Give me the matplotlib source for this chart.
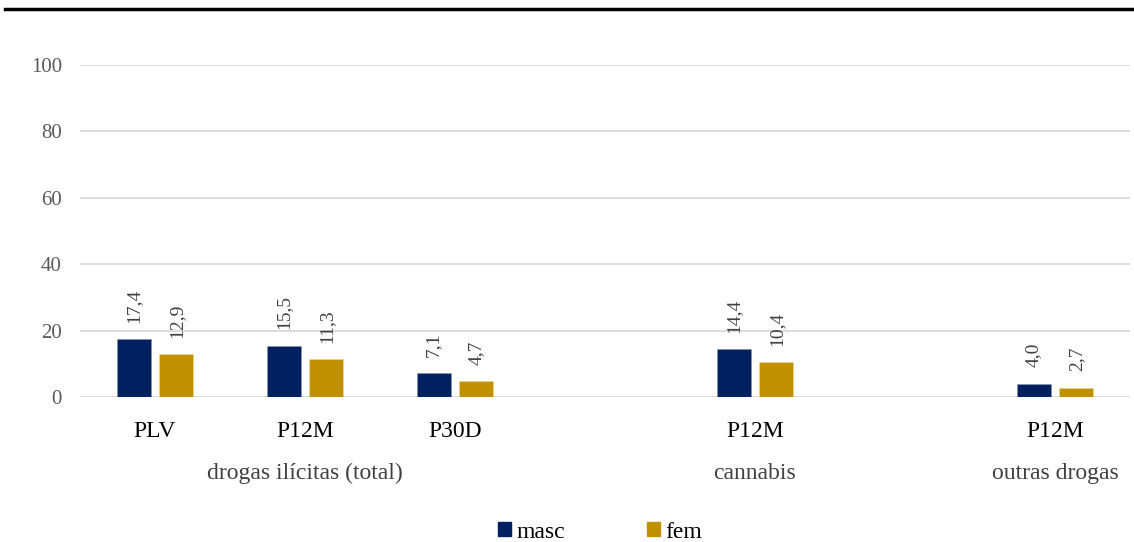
import matplotlib
matplotlib.use("Agg")
import matplotlib.pyplot as plt
from matplotlib.patches import Patch
import numpy as np

plt.rcParams['font.family'] = ['Liberation Serif', 'DejaVu Serif']

# slots on the category axis (empty slots 3 and 5 separate the groups)
slots = [0, 1, 2, 4, 6]
periods = ["PLV", "P12M", "P30D", "P12M", "P12M"]
groups = ["drogas ilícitas (total)", "cannabis", "outras drogas"]
group_slots = [1, 4, 6]
masc = [17.4, 15.5, 7.1, 14.4, 4.0]
fem = [12.9, 11.3, 4.7, 10.4, 2.7]

navy = "#002060"
gold = "#BF9000"
grey = "#404040"

fig = plt.figure(figsize=(11.34, 5.42), dpi=100)
ax = fig.add_axes([80 / 1134, 1 - 397 / 542, 1050 / 1134, 332 / 542])

x = np.array(slots, dtype=float)
w = 0.227
off = 0.143
b1 = ax.bar(x - off, masc, w, color=navy, edgecolor="#8497b0", linewidth=0.4, zorder=3)
b2 = ax.bar(x + off, fem, w, color=gold, edgecolor="#f2d894", linewidth=0.4, zorder=3)

for bars, vals in ((b1, masc), (b2, fem)):
    for r, v in zip(bars, vals):
        ax.annotate(f"{v:.1f}".replace(".", ","),
                    (r.get_x() + r.get_width() / 2, v),
                    xytext=(0, 12), textcoords="offset points",
                    rotation=90, ha="center", va="bottom",
                    fontsize=14, color=grey)

ax.set_xlim(-0.5, 6.5)
ax.set_ylim(0, 100)
ax.set_yticks(range(0, 101, 20))
ax.yaxis.grid(True, color="#d9d9d9", linewidth=1.3, zorder=0)
ax.set_xticks(slots)
ax.set_xticklabels(periods, fontsize=17, color="#000000")
ax.tick_params(axis="x", length=0, pad=17)
ax.tick_params(axis="y", length=0, pad=13, labelsize=15, labelcolor="#595959")
for s in ax.spines.values():
    s.set_visible(False)

for g, s in zip(groups, group_slots):
    ax.text(s, -23, g, ha="center", va="center", fontsize=17, color=grey,
            transform=ax.transData, clip_on=False)

handles = [Patch(color=navy, label="masc"), Patch(color=gold, label="fem")]
fig.legend(handles=handles, loc="center", bbox_to_anchor=(600 / 1134, 1 - 532 / 542),
           ncol=2, frameon=False, fontsize=17, handlelength=0.55, handleheight=0.55,
           handletextpad=0.25, columnspacing=3.45)

# rule across the top of the page
fig.add_artist(plt.Line2D([5 / 1134, 1], [1 - 9 / 542, 1 - 9 / 542], color="black",
                          linewidth=2.5, transform=fig.transFigure))

fig.savefig("out.png", dpi=100)
